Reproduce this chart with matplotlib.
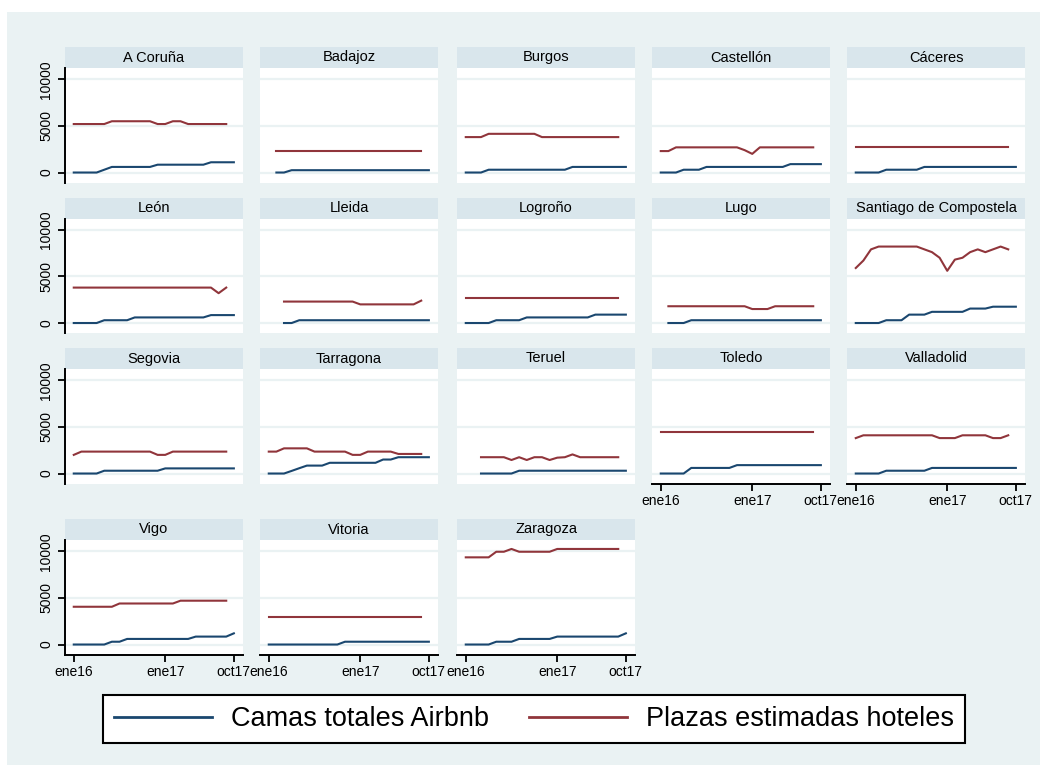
import numpy as np
import matplotlib
matplotlib.use("Agg")
import matplotlib.pyplot as plt
from matplotlib.patches import Rectangle

plt.rcParams['font.family'] = ['Liberation Sans', 'DejaVu Sans']

nan = np.nan

# eje temporal: ene16 .. oct17
meses = ['ene16', 'feb16', 'mar16', 'abr16', 'may16', 'jun16', 'jul16', 'ago16',
         'sep16', 'oct16', 'nov16', 'dic16', 'ene17', 'feb17', 'mar17', 'abr17',
         'may17', 'jun17', 'jul17', 'ago17', 'sep17', 'oct17']
meses_marcados = ['ene16', 'ene17', 'oct17']

ciudades = ['A Coruña', 'Badajoz', 'Burgos', 'Castellón', 'Cáceres',
            'León', 'Lleida', 'Logroño', 'Lugo', 'Santiago de Compostela',
            'Segovia', 'Tarragona', 'Teruel', 'Toledo', 'Valladolid',
            'Vigo', 'Vitoria', 'Zaragoza']

camas_airbnb = {
    'A Coruña': [0, 0, 0, 0, 300, 600, 600, 600, 600, 600, 600, 840, 840, 840, 840, 840, 840, 840, 1100, 1100, 1100, 1100],
    'Badajoz': [nan, 0, 0, 250, 250, 250, 250, 250, 250, 250, 250, 250, 250, 250, 250, 250, 250, 250, 250, 250, 250, 250],
    'Burgos': [0, 0, 0, 300, 300, 300, 300, 300, 300, 300, 300, 300, 300, 300, 600, 600, 600, 600, 600, 600, 600, 600],
    'Castellón': [0, 0, 0, 300, 300, 300, 600, 600, 600, 600, 600, 600, 600, 600, 600, 600, 600, 900, 900, 900, 900, 900],
    'Cáceres': [0, 0, 0, 0, 300, 300, 300, 300, 300, 600, 600, 600, 600, 600, 600, 600, 600, 600, 600, 600, 600, 600],
    'León': [0, 0, 0, 0, 300, 300, 300, 300, 600, 600, 600, 600, 600, 600, 600, 600, 600, 600, 850, 850, 850, 850],
    'Lleida': [nan, nan, 0, 0, 300, 300, 300, 300, 300, 300, 300, 300, 300, 300, 300, 300, 300, 300, 300, 300, 300, 300],
    'Logroño': [0, 0, 0, 0, 300, 300, 300, 300, 600, 600, 600, 600, 600, 600, 600, 600, 600, 900, 900, 900, 900, 900],
    'Lugo': [nan, 0, 0, 0, 300, 300, 300, 300, 300, 300, 300, 300, 300, 300, 300, 300, 300, 300, 300, 300, 300, 300],
    'Santiago de Compostela': [0, 0, 0, 0, 300, 300, 300, 900, 900, 900, 1200, 1200, 1200, 1200, 1200, 1550, 1550, 1550, 1750, 1750, 1750, 1750],
    'Segovia': [0, 0, 0, 0, 300, 300, 300, 300, 300, 300, 300, 300, 550, 550, 550, 550, 550, 550, 550, 550, 550, 550],
    'Tarragona': [0, 0, 0, 280, 570, 850, 850, 850, 1150, 1150, 1150, 1150, 1150, 1150, 1150, 1500, 1500, 1750, 1750, 1750, 1750, 1750],
    'Teruel': [nan, nan, 0, 0, 0, 0, 0, 300, 300, 300, 300, 300, 300, 300, 300, 300, 300, 300, 300, 300, 300, 300],
    'Toledo': [0, 0, 0, 0, 600, 600, 600, 600, 600, 600, 900, 900, 900, 900, 900, 900, 900, 900, 900, 900, 900, 900],
    'Valladolid': [0, 0, 0, 0, 300, 300, 300, 300, 300, 300, 600, 600, 600, 600, 600, 600, 600, 600, 600, 600, 600, 600],
    'Vigo': [0, 0, 0, 0, 0, 300, 300, 600, 600, 600, 600, 600, 600, 600, 600, 600, 850, 850, 850, 850, 850, 1200],
    'Vitoria': [0, 0, 0, 0, 0, 0, 0, 0, 0, 0, 300, 300, 300, 300, 300, 300, 300, 300, 300, 300, 300, 300],
    'Zaragoza': [0, 0, 0, 0, 300, 300, 300, 600, 600, 600, 600, 600, 850, 850, 850, 850, 850, 850, 850, 850, 850, 1200],
}

plazas_hoteles = {
    'A Coruña': [5200, 5200, 5200, 5200, 5200, 5500, 5500, 5500, 5500, 5500, 5500, 5200, 5200, 5500, 5500, 5200, 5200, 5200, 5200, 5200, 5200],
    'Badajoz': [nan, 2300, 2300, 2300, 2300, 2300, 2300, 2300, 2300, 2300, 2300, 2300, 2300, 2300, 2300, 2300, 2300, 2300, 2300, 2300, 2300],
    'Burgos': [3800, 3800, 3800, 4150, 4150, 4150, 4150, 4150, 4150, 4150, 3800, 3800, 3800, 3800, 3800, 3800, 3800, 3800, 3800, 3800, 3800],
    'Castellón': [2300, 2300, 2700, 2700, 2700, 2700, 2700, 2700, 2700, 2700, 2700, 2400, 2000, 2700, 2700, 2700, 2700, 2700, 2700, 2700, 2700],
    'Cáceres': [2700, 2700, 2700, 2700, 2700, 2700, 2700, 2700, 2700, 2700, 2700, 2700, 2700, 2700, 2700, 2700, 2700, 2700, 2700, 2700, 2700],
    'León': [3800, 3800, 3800, 3800, 3800, 3800, 3800, 3800, 3800, 3800, 3800, 3800, 3800, 3800, 3800, 3800, 3800, 3800, 3800, 3200, 3800],
    'Lleida': [nan, nan, 2300, 2300, 2300, 2300, 2300, 2300, 2300, 2300, 2300, 2300, 2000, 2000, 2000, 2000, 2000, 2000, 2000, 2000, 2400],
    'Logroño': [2650, 2650, 2650, 2650, 2650, 2650, 2650, 2650, 2650, 2650, 2650, 2650, 2650, 2650, 2650, 2650, 2650, 2650, 2650, 2650, 2650],
    'Lugo': [nan, 1800, 1800, 1800, 1800, 1800, 1800, 1800, 1800, 1800, 1800, 1800, 1500, 1500, 1500, 1800, 1800, 1800, 1800, 1800, 1800],
    'Santiago de Compostela': [5900, 6700, 7900, 8200, 8200, 8200, 8200, 8200, 8200, 7900, 7600, 7000, 5600, 6800, 7000, 7600, 7900, 7600, 7900, 8200, 7900],
    'Segovia': [2000, 2350, 2350, 2350, 2350, 2350, 2350, 2350, 2350, 2350, 2350, 2000, 2000, 2350, 2350, 2350, 2350, 2350, 2350, 2350, 2350],
    'Tarragona': [2350, 2350, 2700, 2700, 2700, 2700, 2350, 2350, 2350, 2350, 2350, 2000, 2000, 2350, 2350, 2350, 2350, 2100, 2100, 2100, 2100],
    'Teruel': [nan, nan, 1750, 1750, 1750, 1750, 1450, 1750, 1450, 1750, 1750, 1450, 1700, 1750, 2050, 1750, 1750, 1750, 1750, 1750, 1750],
    'Toledo': [4400, 4400, 4400, 4400, 4400, 4400, 4400, 4400, 4400, 4400, 4400, 4400, 4400, 4400, 4400, 4400, 4400, 4400, 4400, 4400, 4400],
    'Valladolid': [3800, 4100, 4100, 4100, 4100, 4100, 4100, 4100, 4100, 4100, 4100, 3800, 3800, 3800, 4100, 4100, 4100, 4100, 3800, 3800, 4100],
    'Vigo': [4050, 4050, 4050, 4050, 4050, 4050, 4400, 4400, 4400, 4400, 4400, 4400, 4400, 4400, 4700, 4700, 4700, 4700, 4700, 4700, 4700],
    'Vitoria': [2900, 2900, 2900, 2900, 2900, 2900, 2900, 2900, 2900, 2900, 2900, 2900, 2900, 2900, 2900, 2900, 2900, 2900, 2900, 2900, 2900],
    'Zaragoza': [9350, 9350, 9350, 9350, 9950, 9950, 10250, 9950, 9950, 9950, 9950, 9950, 10250, 10250, 10250, 10250, 10250, 10250, 10250, 10250, 10250],
}

AZUL = '#1a476f'
ROJO = '#90353b'
FONDO = '#eaf2f3'
FRANJA = '#d9e6ec'

W, H = 1047, 771
fig = plt.figure(figsize=(W / 100, H / 100), dpi=100, facecolor='white')
fig.patches.append(Rectangle((7 / W, 6 / H), (W - 14) / W, (H - 18) / H,
                             transform=fig.transFigure, facecolor=FONDO,
                             edgecolor='none', zorder=-2))

# posicion de los paneles en pixeles
col_x = [65, 260, 457, 652, 847]
fila_top = [68, 218.5, 369, 540]
ancho, alto, franja = 178, 114.5, 21

x_pos = {m: i for i, m in enumerate(meses)}

handles = None
for i, ciudad in enumerate(ciudades):
    fila, col = divmod(i, 5)
    left, top = col_x[col], fila_top[fila]
    ax = fig.add_axes([left / W, 1 - (top + alto) / H, ancho / W, alto / H])
    ax.set_facecolor('white')
    ax.set_zorder(2)

    # franja del titulo
    fig.patches.append(Rectangle((left / W, 1 - top / H), ancho / W, franja / H,
                                 transform=fig.transFigure, facecolor=FRANJA,
                                 edgecolor='none', zorder=-1))
    fig.text((left + ancho / 2) / W, 1 - (top - franja / 2) / H, ciudad,
             ha='center', va='center', fontsize=10.5)

    a = np.array(camas_airbnb[ciudad], dtype=float)
    h = np.array(plazas_hoteles[ciudad], dtype=float)
    l1, = ax.plot(np.arange(len(a)), a, color=AZUL, lw=1.5, zorder=3)
    l2, = ax.plot(np.arange(len(h)), h, color=ROJO, lw=1.5, zorder=3)
    if handles is None:
        handles = [l1, l2]

    ax.set_xlim(-1.15, 22.2)
    ax.set_ylim(-1070, 11210)
    ax.set_yticks([0, 5000, 10000])
    ax.set_xticks([x_pos[m] for m in meses_marcados])
    ax.set_xticklabels(meses_marcados)
    ax.yaxis.grid(True, color=FONDO, lw=1.6)
    ax.set_axisbelow(True)
    for s in ax.spines.values():
        s.set_visible(False)

    eje_x = i + 5 >= len(ciudades)
    eje_y = col == 0
    ax.tick_params(axis='x', bottom=eje_x, labelbottom=eje_x, length=5,
                   width=1.3, pad=2.5, labelsize=10)
    ax.tick_params(axis='y', left=eje_y, labelleft=eje_y, length=5,
                   width=1.3, pad=3.5, labelsize=10, labelrotation=90)
    for lab in ax.get_yticklabels():
        lab.set_va('center')
    if eje_x:
        ax.spines['bottom'].set_visible(True)
        ax.spines['bottom'].set_linewidth(1.4)
    if eje_y:
        ax.spines['left'].set_visible(True)
        ax.spines['left'].set_linewidth(1.4)

leg = fig.legend(handles, ['Camas totales Airbnb', 'Plazas estimadas hoteles'],
                 loc='center', bbox_to_anchor=(534 / W, 1 - 719 / H), ncol=2,
                 frameon=True, fancybox=False, edgecolor='black', framealpha=1,
                 fontsize=19.5, handlelength=3.6, handletextpad=0.7,
                 columnspacing=1.5, borderpad=0.4)
leg.get_frame().set_linewidth(1.5)
leg.get_frame().set_facecolor('white')
for ln in leg.get_lines():
    ln.set_linewidth(2)

fig.savefig('out.png', dpi=100, facecolor='white')
